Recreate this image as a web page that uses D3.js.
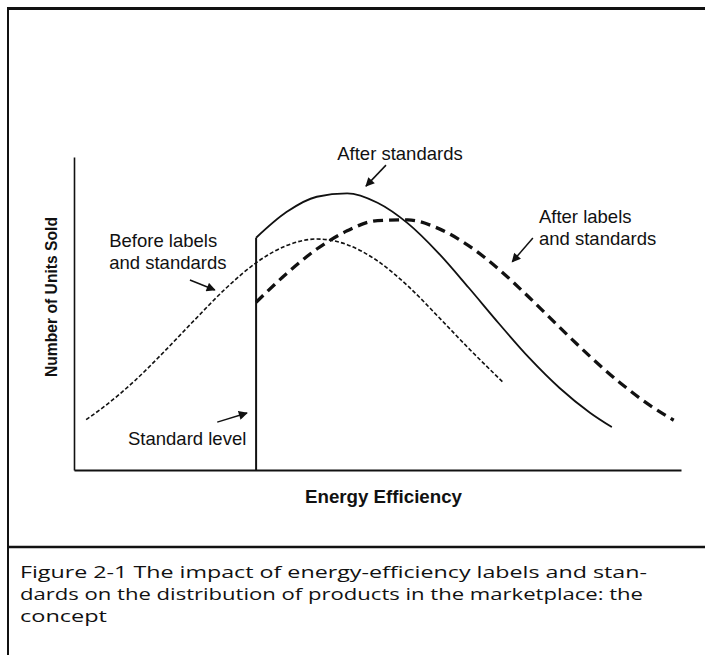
<!DOCTYPE html>
<html>
<head>
<meta charset="utf-8">
<script src="https://d3js.org/d3.v7.min.js"></script>
<style>
  body { margin: 0; background: #fff; }
  .lbl { font-family: "Liberation Sans", Arial, sans-serif; font-size: 18.5px; fill: #111; }
  .axis-title { font-family: "Liberation Sans", Arial, sans-serif; font-size: 17.5px; font-weight: bold; fill: #111; }
  .caption { font-family: "Open Sans", "Noto Sans", sans-serif; font-size: 16px; fill: #111; }
</style>
</head>
<body>
<div id="chart"></div>
<script>
// efficiency positions (0-100) and relative units sold (0-100)
var beforeX = [2, 5, 10, 15, 20, 25, 30, 35, 40, 45, 50, 55, 60, 65, 70.8];
var beforeY = [16.1, 20.3, 28.5, 38.1, 48.2, 58.0, 66.2, 71.7, 73.8, 72.0, 66.8, 58.8, 49.0, 38.9, 27.8];

var stdX = [30, 35, 40, 45, 50, 55, 60, 65, 70, 75, 80, 85, 88.6];
var stdY = [74.2, 82.4, 87.3, 88.4, 85.4, 78.8, 69.4, 58.3, 46.8, 35.8, 26.2, 18.3, 13.7];

var labX = [30, 35, 40, 45, 50, 55, 60, 65, 70, 75, 80, 85, 90, 95, 98.8];
var labY = [53.6, 62.7, 70.6, 76.4, 79.7, 79.9, 77.2, 71.7, 64.1, 55.1, 45.6, 36.3, 27.8, 20.5, 15.9];

var standardLevel = 30;

var captionLines = [
  "Figure 2-1  The impact of energy-efficiency labels and stan-",
  "dards on the distribution of products in the marketplace: the",
  "concept"
];

// annotations: text lines, anchor (data units), arrow from/to (data units)
var notes = [
  {lines: ["After standards"], x: 53.7, y: 99.0, anchor: "middle", from: [51.4, 97.4], to: [48.1, 90.7]},
  {lines: ["After labels", "and standards"], x: 76.6, y: 78.9, anchor: "start", from: [75.6, 74.1], to: [72.2, 66.5]},
  {lines: ["Before labels", "and standards"], x: 5.8, y: 71.2, anchor: "start", from: [19.1, 60.7], to: [23.2, 57.5]},
  {lines: ["Standard level"], x: 8.9, y: 8.0, anchor: "start", from: [23.6, 15.3], to: [28.5, 18.2]}
];

var W = 705, H = 655;
var svg = d3.select('#chart').append('svg').attr('width', W).attr('height', H).style('display', 'block');
svg.append('rect').attr('width', W).attr('height', H).attr('fill', '#fff');

var x = d3.scaleLinear().domain([0, 100]).range([74, 681]);
var y = d3.scaleLinear().domain([0, 100]).range([470, 157]);

// frame
svg.append('line').attr('x1', 8).attr('x2', W).attr('y1', 8.5).attr('y2', 8.5).attr('stroke', '#111').attr('stroke-width', 3);
svg.append('line').attr('x1', 8).attr('x2', 8).attr('y1', 7).attr('y2', H).attr('stroke', '#111').attr('stroke-width', 2);
svg.append('line').attr('x1', 8).attr('x2', W).attr('y1', 547).attr('y2', 547).attr('stroke', '#111').attr('stroke-width', 2.5);

// axes, no ticks
svg.append('g').attr('transform', 'translate(0,470)')
  .call(d3.axisBottom(x).tickValues([]).tickSizeOuter(0))
  .select('.domain').attr('stroke', '#111').attr('stroke-width', 2);
svg.append('g').attr('transform', 'translate(74,0)')
  .call(d3.axisLeft(y).tickValues([]).tickSizeOuter(0))
  .select('.domain').attr('stroke', '#111').attr('stroke-width', 1.6);

svg.append('text').attr('class', 'axis-title')
  .attr('x', 305).attr('y', 503)
  .attr('textLength', 157).attr('lengthAdjust', 'spacingAndGlyphs')
  .text('Energy Efficiency');
svg.append('text').attr('class', 'axis-title')
  .style('font-size', '16.5px')
  .attr('transform', 'translate(57,377) rotate(-90)')
  .attr('textLength', 160).attr('lengthAdjust', 'spacingAndGlyphs')
  .text('Number of Units Sold');

var line = d3.line().x(d => x(d[0])).y(d => y(d[1])).curve(d3.curveMonotoneX);

// standard level
svg.append('line')
  .attr('x1', x(standardLevel)).attr('x2', x(standardLevel))
  .attr('y1', y(0)).attr('y2', y(stdY[0]))
  .attr('stroke', '#111').attr('stroke-width', 2);

svg.append('path').datum(d3.zip(beforeX, beforeY)).attr('d', line)
  .attr('fill', 'none').attr('stroke', '#111').attr('stroke-width', 1.6).attr('stroke-dasharray', '4,2.2');
svg.append('path').datum(d3.zip(stdX, stdY)).attr('d', line)
  .attr('fill', 'none').attr('stroke', '#111').attr('stroke-width', 1.8);
svg.append('path').datum(d3.zip(labX, labY)).attr('d', line)
  .attr('fill', 'none').attr('stroke', '#111').attr('stroke-width', 3.3).attr('stroke-dasharray', '10,6');

// arrowhead
svg.append('defs').append('marker').attr('id', 'arr')
  .attr('viewBox', '0 0 10 10').attr('refX', 9).attr('refY', 5)
  .attr('markerWidth', 10).attr('markerHeight', 9).attr('markerUnits', 'userSpaceOnUse')
  .attr('orient', 'auto')
  .append('path').attr('d', 'M0,0 L10,5 L0,10 Z').attr('fill', '#111');

notes.forEach(function(n) {
  var t = svg.append('text').attr('class', 'lbl').attr('text-anchor', n.anchor);
  n.lines.forEach(function(s, i) {
    t.append('tspan').attr('x', x(n.x)).attr('y', y(n.y) + i * 22).text(s);
  });
  svg.append('line')
    .attr('x1', x(n.from[0])).attr('y1', y(n.from[1]))
    .attr('x2', x(n.to[0])).attr('y2', y(n.to[1]))
    .attr('stroke', '#111').attr('stroke-width', 1.5).attr('marker-end', 'url(#arr)');
});

// caption
var capW = [627, 623, 87];
captionLines.forEach(function(s, i) {
  svg.append('text').attr('class', 'caption')
    .attr('x', 20).attr('y', 578 + i * 22)
    .attr('textLength', capW[i]).attr('lengthAdjust', 'spacingAndGlyphs')
    .text(s);
});
</script>
</body>
</html>
